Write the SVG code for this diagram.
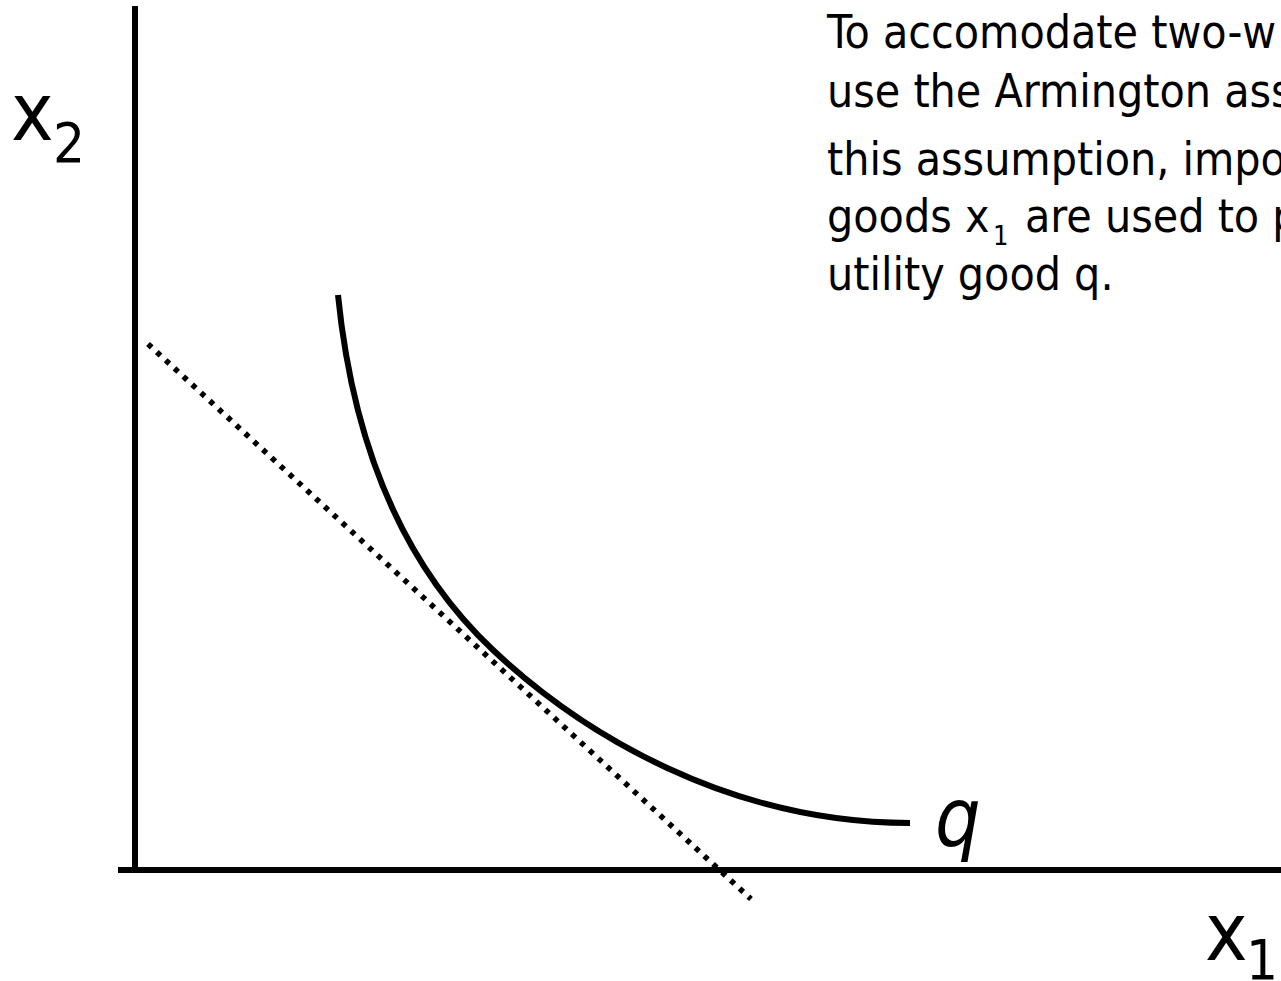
<svg xmlns="http://www.w3.org/2000/svg" width="1281" height="981" viewBox="0 0 1281 981">
<style>
.ax{stroke:#000;stroke-width:6;fill:none}
.curve{stroke:#000;stroke-width:6;fill:none}
.dot{stroke:#000;stroke-width:5.5;fill:none;stroke-dasharray:5 7}
.t{font-family:"DejaVu Sans Condensed","DejaVu Sans",sans-serif;font-stretch:condensed;fill:#000}
.body{font-size:46px}
.lab{font-size:80px}
.sub{font-size:56px}
.q{font-size:80px;font-style:italic}
</style>
<rect width="1281" height="981" fill="#fff"/>
<g id="connectors">
<line class="ax" x1="135" y1="6" x2="135" y2="873"/>
<line class="ax" x1="118" y1="870" x2="1281" y2="870"/>
<line class="dot" x1="148" y1="344" x2="751" y2="899"/>
</g>
<g id="curve-q">
<path class="curve" d="M338,295 C354,455 408,570 493,650 C583,734.6 730,823 910,823"/>
<text class="t q" x="935" y="845">q</text>
</g>
<g id="axis-x2">
<text class="t lab" x="11" y="140">x</text>
<text class="t sub" x="53" y="162">2</text>
</g>
<g id="axis-x1">
<text class="t lab" x="1205" y="960">x</text>
<text class="t sub" x="1246" y="979">1</text>
</g>
<g id="note">
<text class="t body" x="827" y="48">To accomodate two-w</text>
<text class="t body" x="827" y="107">use the Armington ass</text>
<text class="t body" x="827" y="175">this assumption, impo</text>
<text class="t body" x="827" y="232">goods x</text>
<text class="t" font-size="27" x="993" y="245">1</text>
<text class="t body" x="1025" y="232">are used to p</text>
<text class="t body" x="827" y="290">utility good q.</text>
</g>
</svg>
